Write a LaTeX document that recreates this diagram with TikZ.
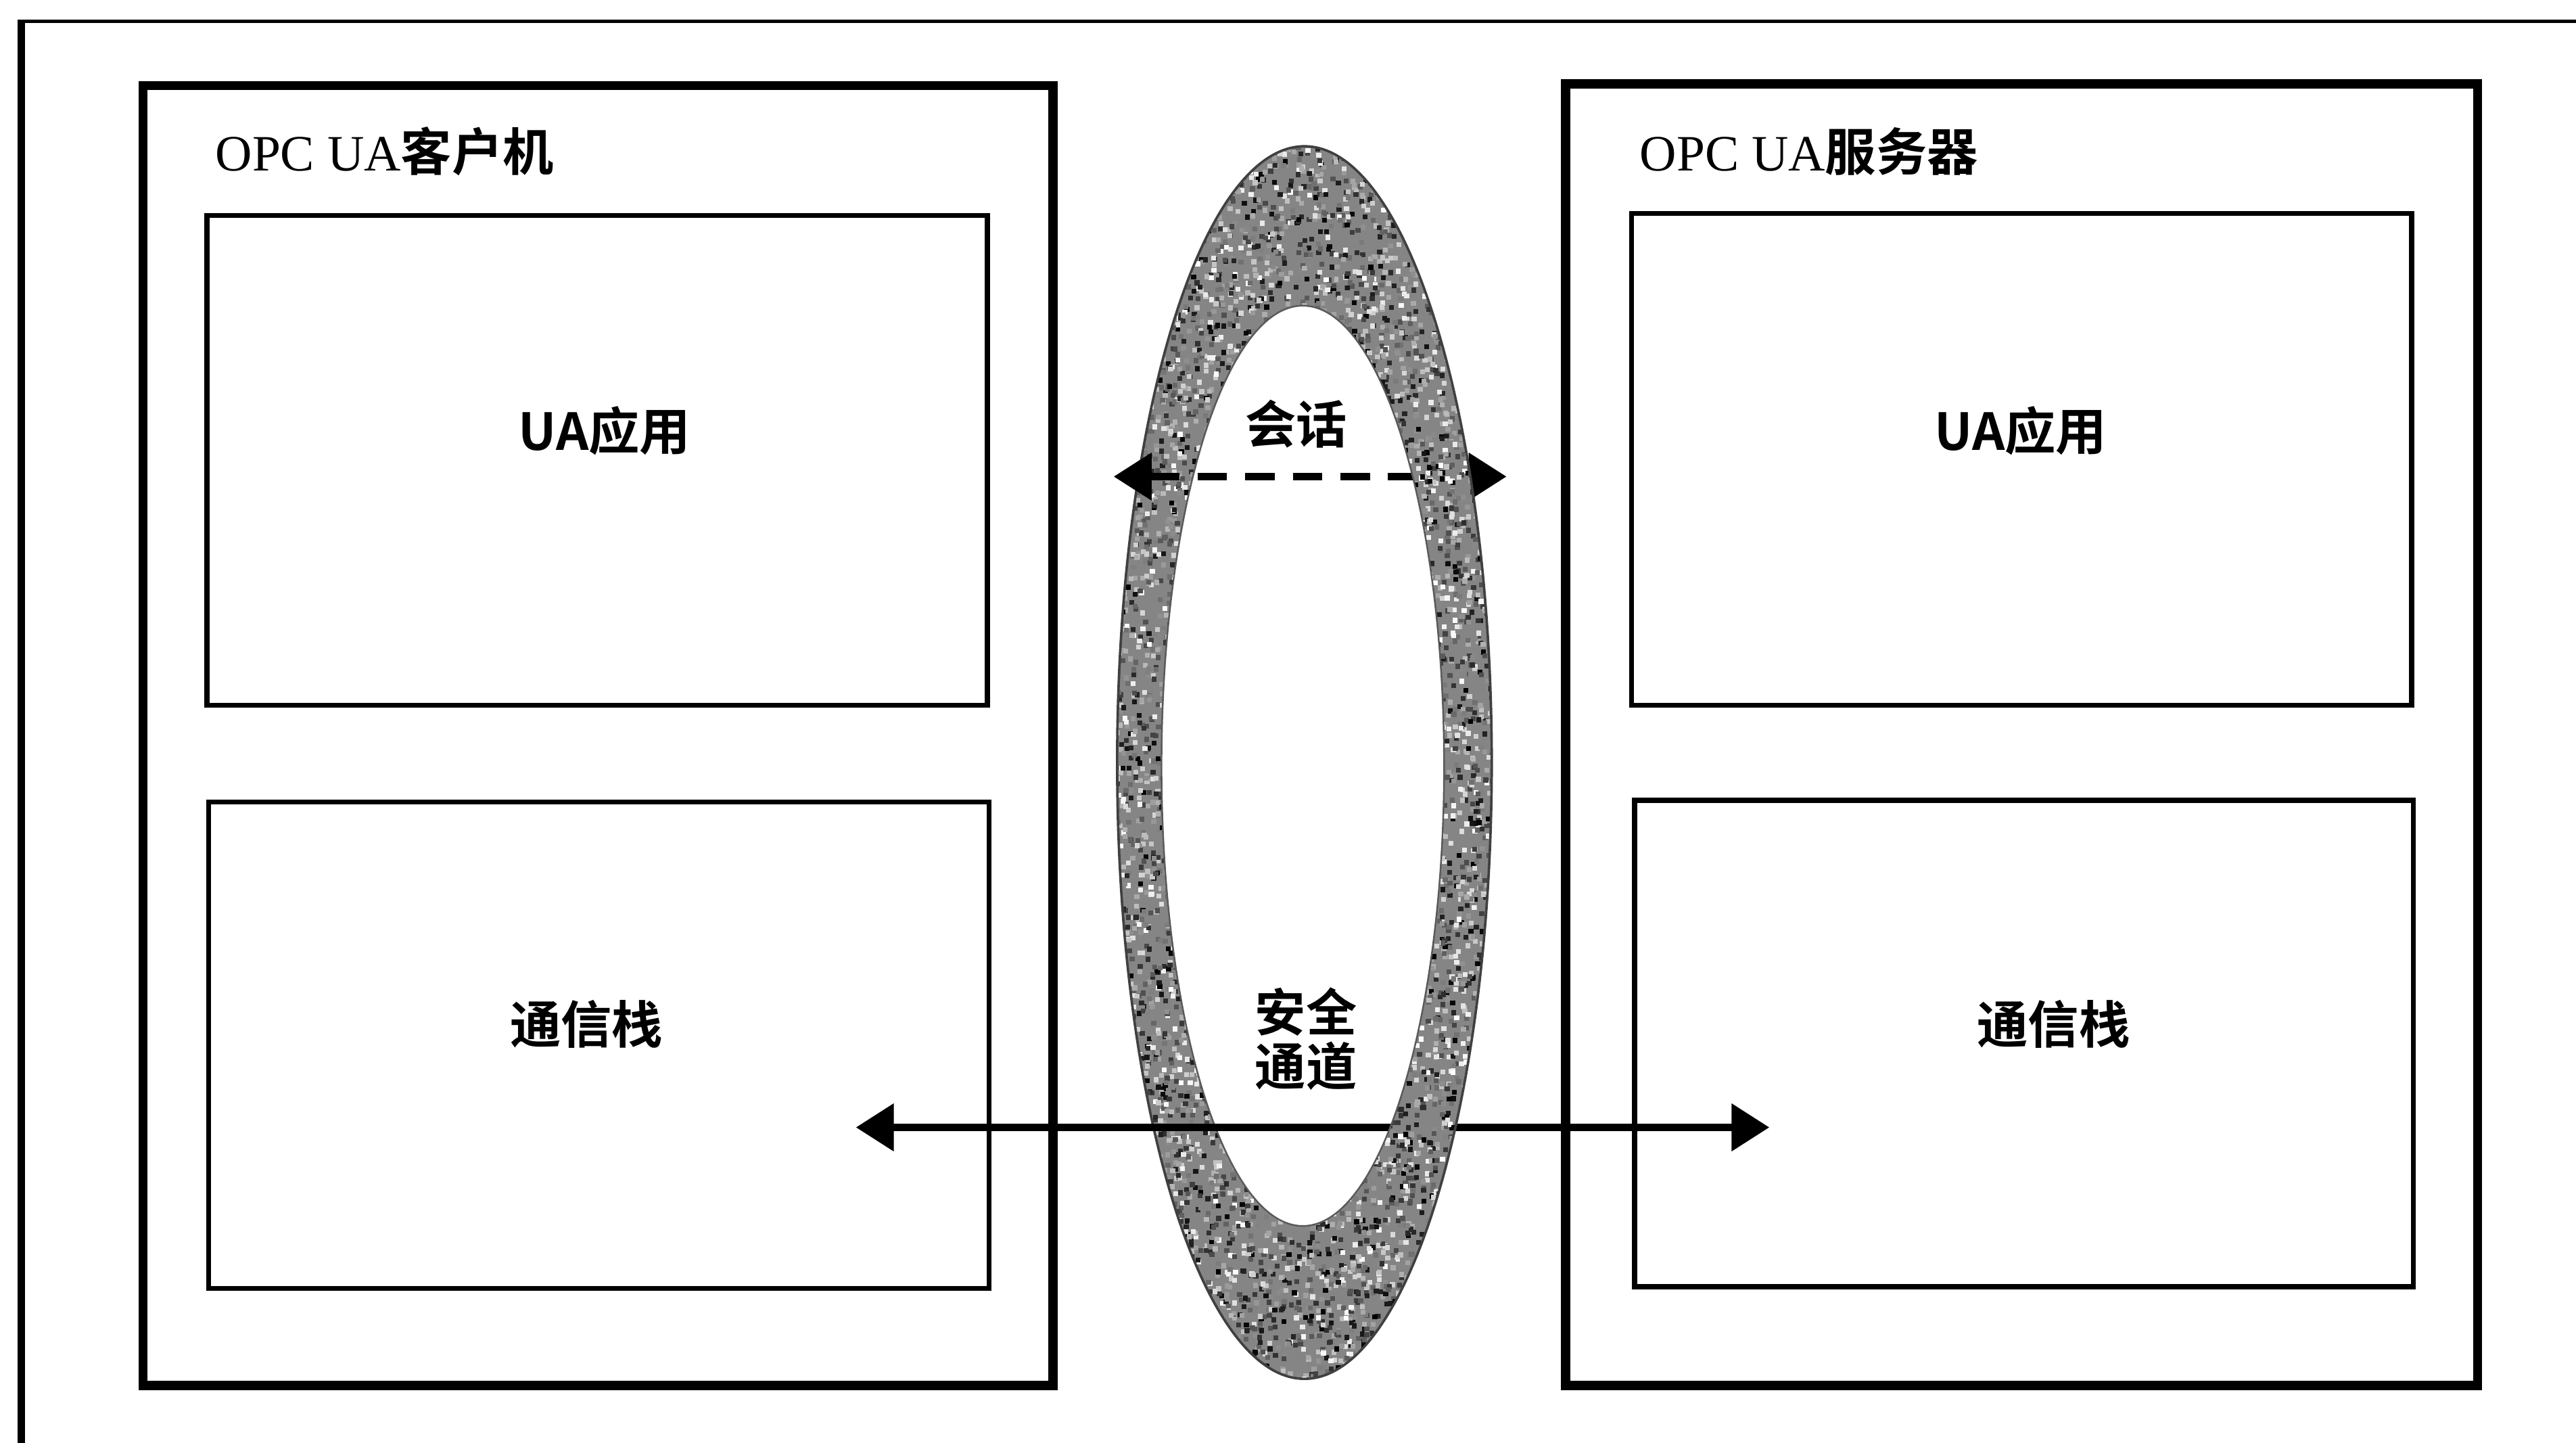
\documentclass[tikz,border=0pt]{standalone}
\usepackage{fontspec}
\setmainfont{Liberation Serif}
\newfontfamily\cjk{Noto Sans CJK SC}[BoldFont={Noto Sans CJK SC Bold}]
\usetikzlibrary{arrows.meta}
\begin{document}
\begin{tikzpicture}[x=1pt,y=-1pt,
  bigbox/.style={draw,line width=5.5pt,inner sep=0pt},
  subbox/.style={draw,line width=3pt,inner sep=0pt},
  lbl/.style={font=\cjk\bfseries\fontsize{31}{33}\selectfont,inner sep=0pt,align=center},
  ttl/.style={font=\fontsize{31}{36}\selectfont,inner sep=0pt,anchor=west},
  arr/.style={line width=4.5pt,{Triangle[length=23pt,width=28pt]}-{Triangle[length=23pt,width=28pt]}},
  dasharr/.style={arr,dash pattern=on 18pt off 11pt}
]
\useasboundingbox (0,0) rectangle (1568,878);
\fill[white] (0,0) rectangle (1568,878);
% outer frame (top and left only)
\draw[line width=2pt] (1568,13) -- (12,13);
\draw[line width=4.5pt] (13,12) -- (13,878);
% big boxes
\node[bigbox,minimum width=554pt,minimum height=791pt] (client) at (364,447.5) {};
\node[bigbox,minimum width=555pt,minimum height=792pt] (server) at (1230.5,447) {};
% sub boxes
\node[subbox,minimum width=475pt,minimum height=298pt] (capp) at (363.5,280) {};
\node[subbox,minimum width=475pt,minimum height=296pt] (cstk) at (364.5,636) {};
\node[subbox,minimum width=475pt,minimum height=299pt] (sapp) at (1230.5,279.5) {};
\node[subbox,minimum width=474pt,minimum height=296pt] (sstk) at (1232,635) {};
% titles
\node[ttl] (ctitle) at (131,92) {OPC UA{\cjk\bfseries 客户机}};
\node[ttl] (stitle) at (998,92) {OPC UA{\cjk\bfseries 服务器}};
% labels
\node[lbl] (cappl) at (368,262) {UA应用};
\node[lbl] (sappl) at (1230,262) {UA应用};
\node[lbl] (cstkl) at (357,623) {通信栈};
\node[lbl] (sstkl) at (1250,623) {通信栈};
% arrow end points
\coordinate (sesL) at (678,290);
\coordinate (sesR) at (917,290);
\coordinate (chL) at (521,686);
\coordinate (chR) at (1077,686);
% arrows (under ring)
\draw[dasharr] (sesL) -- (sesR);
\draw[arr] (chL) -- (chR);
% ring
\begin{scope}[even odd rule]
  \clip (794,464) ellipse [x radius=114, y radius=375]
        (793,466) ellipse [x radius=86, y radius=280];
  \fill[black!48] (670,80) rectangle (920,850);
  \pgfmathsetseed{7}
  \foreach \i in {1,...,9000}{
    \pgfmathsetmacro\px{678+232*rnd}
    \pgfmathsetmacro\py{87+754*rnd}
    \pgfmathsetmacro\gv{100*rnd}
    \fill[black!\gv] (\px,\py) rectangle ++(3,3);
  }
\end{scope}
\draw[line width=1.5pt,black!75] (794,464) ellipse [x radius=114, y radius=375];
\draw[line width=1pt,black!65] (793,466) ellipse [x radius=86, y radius=280];
% arrows over left half of ring
\begin{scope}
  \clip (600,250) rectangle (793,720);
  \draw[dasharr] (sesL) -- (sesR);
  \draw[arr] (chL) -- (chR);
\end{scope}
% ring labels
\node[lbl] (sess) at (789,258) {会话};
\node[lbl] (chan) at (795,632) {安全\\通道};
\end{tikzpicture}
\end{document}
